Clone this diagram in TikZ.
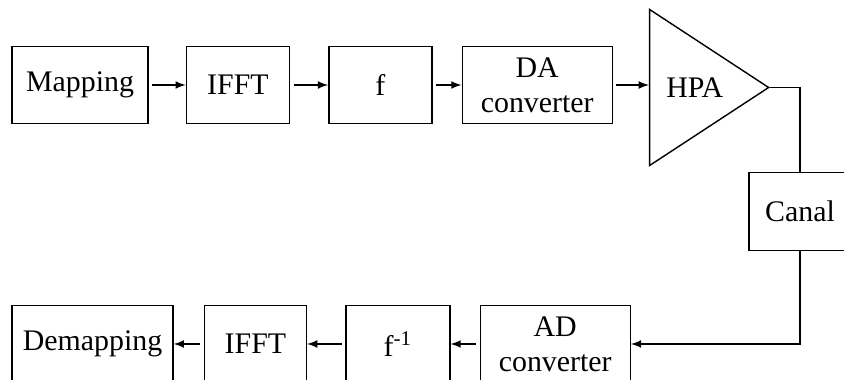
\documentclass[tikz,border=0pt]{standalone}
\usepackage{fontspec}
\setmainfont{Liberation Serif}
\usetikzlibrary{positioning}
\usetikzlibrary{shapes.geometric, arrows}

\begin{document}
\begin{tikzpicture}[auto, node distance=0.74cm]
    \tikzstyle{block}=[draw, rectangle, line width=0.8pt, minimum height=1.55cm,
    align=center, font=\fontsize{17}{20}\selectfont, inner sep=0pt];
    \tikzstyle{amp}=[draw, isosceles triangle, isosceles triangle stretches,
    line width=0.8pt, minimum width=3.12cm, minimum height=2.38cm, inner sep=0pt,
    font=\fontsize{17}{20}\selectfont];
    \tikzstyle{line}=[-latex, line width=1pt, shorten <=2pt];
    \clip (0,0) rectangle (16.88,7.6);
    % emission
    \node [block, minimum width=2.72cm] (map) at (1.60,5.9) {Mapping};
    \node [block, minimum width=2.06cm, right=0.74cm of map] (ifft) {IFFT};
    \node [block, minimum width=2.06cm, right=0.76cm of ifft] (f) {f};
    \node [block, minimum width=3.0cm, right=0.58cm of f] (da) {DA\\converter};
    \node [amp, anchor=west, right=0.72cm of da, yshift=-0.05cm] (hpa) {HPA};
    \node [block, minimum width=2.04cm] (canal) at (16.0,3.37) {Canal};
    % reception
    \node [block, minimum width=3.22cm] (demap) at (1.85,0.72) {Demapping};
    \node [block, minimum width=2.04cm, right=0.6cm of demap] (ifftb) {IFFT};
    \node [block, minimum width=2.08cm, right=0.76cm of ifftb] (finv) {f\textsuperscript{-1}};
    \node [block, minimum width=3.0cm, right=0.58cm of finv] (ad) {AD\\converter};
    \draw[line] (map) -- (ifft);
    \draw[line] (ifft) -- (f);
    \draw[line] (f) -- (da);
    \draw[line] (da) -- (da.east -| hpa.west);
    \draw[line width=1pt] (hpa.apex) -| (canal.north);
    \draw[line, shorten <=0pt] (canal.south) |- (ad.east);
    \draw[line] (ad) -- (finv);
    \draw[line] (finv) -- (ifftb);
    \draw[line] (ifftb) -- (demap);
\end{tikzpicture}
\end{document}
